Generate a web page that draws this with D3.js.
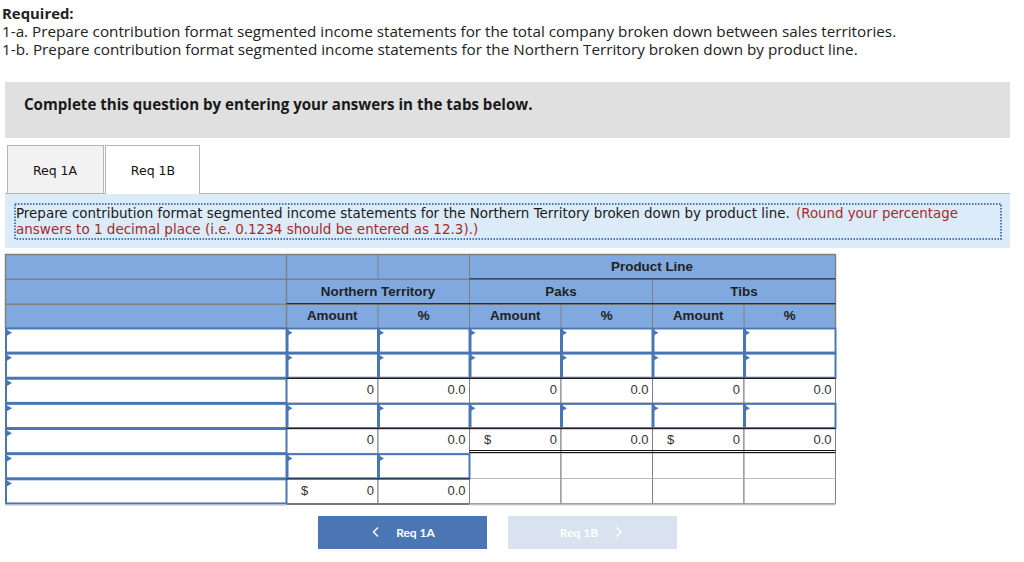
<![CDATA[<!DOCTYPE html>
<html><head><meta charset="utf-8">
<script src="https://cdnjs.cloudflare.com/ajax/libs/d3/7.8.5/d3.min.js"></script>
<style>html,body{margin:0;padding:0;background:#fff;overflow:hidden}svg{display:block}</style>
</head><body><svg id="c" width="1024" height="562"></svg>
<script>
const introLines=[
 "1-a. Prepare contribution format segmented income statements for the total company broken down between sales territories.",
 "1-b. Prepare contribution format segmented income statements for the Northern Territory broken down by product line."];
const columns=["ntAmt","ntPct","pakAmt","pakPct","tibAmt","tibPct"];
const columnHeads=["Amount","%","Amount","%","Amount","%"];
const rowIds=["r0","r1","r2","r3","r4","r5","r6"];
// cell kinds: i = input, v = computed value, b = blank
const rowKinds=[
 ["i","i","i","i","i","i"],
 ["i","i","i","i","i","i"],
 ["v","v","v","v","v","v"],
 ["i","i","i","i","i","i"],
 ["v","v","v","v","v","v"],
 ["i","i","b","b","b","b"],
 ["v","v","b","b","b","b"]];
const rowValues=[
 [],[],
 ["0","0.0","0","0.0","0","0.0"],
 [],
 ["0","0.0","0","0.0","0","0.0"],
 [],
 ["0","0.0"]];
const dollarCells=[["r4","pakAmt"],["r4","tibAmt"],["r6","ntAmt"]];

const svg=d3.select("#c");
const ARIAL="'Liberation Sans',Arial,sans-serif", BODY="'Open Sans',sans-serif", VERD="'DejaVu Sans',sans-serif";
const BLUE="#4a76b4", HEAD="#7fa9df", GRID="#808080";

function txt(x,y,s,o={}){return svg.append("text").attr("x",x).attr("y",y).text(s)
 .attr("font-family",o.f||BODY).attr("font-size",o.s||14).attr("font-weight",o.w||400)
 .attr("fill",o.c||"#222").attr("text-anchor",o.a||"start");}
function rect(x,y,w,h,fill,stroke,sw){return svg.append("rect").attr("x",x).attr("y",y).attr("width",w).attr("height",h)
 .attr("fill",fill||"none").attr("stroke",stroke||"none").attr("stroke-width",sw||0);}
function line(x1,y1,x2,y2,c,w){return svg.append("line").attr("x1",x1).attr("y1",y1).attr("x2",x2).attr("y2",y2).attr("stroke",c).attr("stroke-width",w||1);}

// Intro
txt(2,19,"Required:",{w:700,s:14.9});
introLines.forEach((l,i)=>txt(2,37+i*18,l,{s:15.25}));
rect(5,82,1005,56,"#e0e0e0");
txt(24,110,"Complete this question by entering your answers in the tabs below.",{w:700,s:15.1,c:"#1a1a1a"});

// Tabs
rect(7.5,145.5,96,48,"#f2f2f2","#b5b5b5",1);
line(5,193.5,1010,193.5,"#b5b5b5",1);
rect(105.5,145.5,94,49,"#fff","#b5b5b5",1);
rect(106,192,93,3,"#fff");
txt(55,175,"Req 1A",{f:VERD,s:12.5,a:"middle",c:"#111"});
txt(153,175,"Req 1B",{f:VERD,s:12.5,a:"middle",c:"#111"});

// Instruction box
rect(5,194,1005,54,"#dcebf9");
rect(15,204,986,35,"none","#4a76b4",2).attr("stroke-dasharray","1.5 1.5");
txt(16,218,"Prepare contribution format segmented income statements for the Northern Territory broken down by product line.",{f:VERD,s:13.45,c:"#1a1a1a"});
txt(796,218,"(Round your percentage",{f:VERD,s:13.35,c:"#a52a2a"});
txt(16,234,"answers to 1 decimal place (i.e. 0.1234 should be entered as 12.3).)",{f:VERD,s:13.5,c:"#a52a2a"});

// Scales
const x=d3.scaleBand().domain(columns).range([286.5,835.5]);
const y=d3.scaleBand().domain(rowIds).range([327.7,503.7]);
const hy=d3.scaleBand().domain([0,1,2]).range([254,328.5]);
const LX=5, LW=281.5, cw=x.bandwidth(), rh=y.bandwidth(), XR=835.5;

// Header
rect(LX,254,XR-LX,74.5,HEAD);
[0,1,2].forEach(i=>line(LX,hy(i)+.5,XR,hy(i)+.5,GRID,1.5));
line(LX,328.5,XR,328.5,GRID,1.5);
line(LX+.5,254,LX+.5,328.5,GRID,1.5);
line(XR,254,XR,328.5,GRID,1.5);
line(x("ntAmt"),254,x("ntAmt"),328.5,GRID,1.5);
line(x("ntPct"),254,x("ntPct"),hy(1),GRID,1);
line(x("pakAmt"),254,x("pakAmt"),328.5,GRID,1);
line(x("ntPct"),hy(2),x("ntPct"),328.5,GRID,1);
line(x("pakPct"),hy(2),x("pakPct"),328.5,GRID,1);
line(x("tibAmt"),hy(1),x("tibAmt"),328.5,GRID,1);
line(x("tibPct"),hy(2),x("tibPct"),328.5,GRID,1);
line(286.5,hy(2),XR,hy(2),"#1a1a1a",1);
line(x("pakAmt"),hy(1),XR,hy(1),"#3d4a5c",1.5);
const hs={f:ARIAL,s:13.4,w:700,a:"middle",c:"#222"};
txt(652,271,"Product Line",hs);
txt(378,296,"Northern Territory",hs);
txt(561,296,"Paks",hs);
txt(744,296,"Tibs",hs);
columns.forEach((c,i)=>txt(x(c)+cw/2,320,columnHeads[i],hs));

// Marker helper
function marker(px,py){svg.append("path").attr("d",d3.line()([[px,py],[px+6,py+3.5],[px,py+7]])+"Z").attr("fill",BLUE);}

// Body
rowIds.forEach((r,ri)=>{
  const ry=y(r);
  columns.forEach((c,ci)=>{
    const k=rowKinds[ri][ci], cx=x(c);
    rect(cx,ry,cw,rh,"#fff");
    if(k!=="i"){
      line(cx,ry+rh,cx+cw,ry+rh,GRID,1);
      line(cx,ry,cx,ry+rh,GRID,1);
      line(cx+cw,ry,cx+cw,ry+rh,GRID,1);
    }
  });
});
rowIds.forEach((r,ri)=>{
  const ry=y(r);
  rect(LX+1,ry+.75,LW-1,rh-1,"#fff",BLUE,2);
  marker(LX+1,ry+1.5);
  columns.forEach((c,ci)=>{
    const k=rowKinds[ri][ci], cx=x(c);
    if(k==="i"){
      rect(cx+1,ry+.75,cw-1,rh-1,"#fff",BLUE,2);
      marker(cx,ry+1.5);
    } else if(k==="v"){
      txt(cx+cw-4,ry+16,rowValues[ri][ci],{f:ARIAL,s:13,a:"end",c:"#333"});
    }
  });
});
dollarCells.forEach(([r,c])=>txt(x(c)+18,y(r)+16,"$",{f:ARIAL,s:13,a:"middle",c:"#333"}));
["r2","r4","r6"].forEach(r=>{
  const n=r==="r6"?2:6;
  line(286.5,y(r)+.4,x(columns[n-1])+cw,y(r)+.4,"#111",1);
});
const dbl=Math.round(y("r5"));
line(x("pakAmt"),dbl-2.5,XR,dbl-2.5,"#111",1);
line(x("pakAmt"),dbl-.5,XR,dbl-.5,"#111",1);
line(286.5,504,x("pakAmt"),504,"#777",2.2);
line(x("pakAmt"),504.5,XR,504.5,"#bbb",1.5);
line(LX,505,286.5,505,"#bbb",1);

// Buttons
rect(318,516,169,33,BLUE);
svg.append("path").attr("d",d3.line()([[378,527.5],[373.5,532],[378,536.5]])).attr("fill","none").attr("stroke","#fff").attr("stroke-width",1.4);
txt(415.5,537,"Req 1A",{f:"Lato,sans-serif",w:700,s:12,a:"middle",c:"#fff"});
rect(508,516,169,33,"#d9e3f0");
svg.append("path").attr("d",d3.line()([[616.5,527.5],[621,532],[616.5,536.5]])).attr("fill","none").attr("stroke","#fff").attr("stroke-width",1.4);
txt(579,537,"Req 1B",{f:"Lato,sans-serif",w:700,s:12,a:"middle",c:"#fff"});
</script></body></html>]]>
